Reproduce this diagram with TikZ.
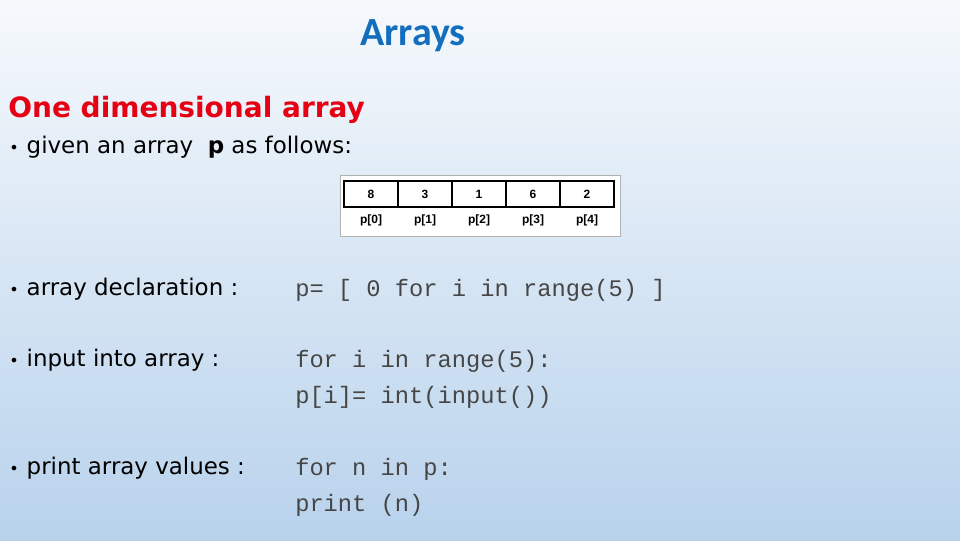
\documentclass[tikz,border=0pt]{standalone}
\usepackage{fontspec}
\setmainfont{DejaVu Sans}
\newfontfamily\titlefont{Carlito}
\newfontfamily\codefont{Liberation Mono}
\newfontfamily\cellfont{Liberation Sans}
\definecolor{titleblue}{RGB}{20,110,190}
\definecolor{headred}{RGB}{230,0,20}
\definecolor{codegray}{RGB}{70,70,70}
\definecolor{bgtop}{RGB}{246,249,252}
\definecolor{bgbot}{RGB}{184,210,236}
\newcommand{\itemdot}{{\fontsize{12}{12}\selectfont\textbullet}\hspace{0.35em}}
\tikzset{
  txt/.style={anchor=base west,inner sep=0pt,font=\fontsize{17.2}{20}\selectfont},
  code/.style={anchor=base west,inner sep=0pt,text=codegray,font=\codefont\fontsize{17.8}{20}\selectfont},
  cellbox/.style={draw,line width=1.2pt,minimum width=40.5pt,minimum height=19.5pt,inner sep=0pt,font=\cellfont\bfseries\fontsize{9}{10}\selectfont},
  idx/.style={inner sep=0pt,font=\cellfont\bfseries\fontsize{9}{10}\selectfont}
}
\begin{document}
\begin{tikzpicture}[x=0.75pt,y=-0.75pt]
  \shade[top color=bgtop,bottom color=bgbot] (0,0) rectangle (960,540);
  \useasboundingbox (0,0) rectangle (960,540);
  % title and heading
  \node[anchor=base,inner sep=0pt,text=titleblue,font=\titlefont\bfseries\fontsize{30}{34}\selectfont] (title) at (413,45) {Arrays};
  \node[txt,text=headred,font=\bfseries\fontsize{21}{24}\selectfont] (head) at (8,117) {One dimensional array};
  \node[txt] (given) at (9,153) {\itemdot given an array \ \textbf{p} as follows:};
  % array picture
  \fill[white] (340,175) rectangle (620,236);
  \draw[gray!60] (340,175) rectangle (620,236);
  \foreach \v [count=\i from 0] in {8,3,1,6,2} {
    \node[cellbox] (c\i) at (371+\i*54,194) {\v};
    \node[idx] (p\i) at (371+\i*54,220) {p[\i]};
  }
  % statements
  \node[txt] (decl) at (9,295) {\itemdot array declaration :};
  \node[code] (declc) at (295,296) {p= [ 0 for i in range(5) ]};
  \node[txt] (inp) at (9,366) {\itemdot input into array :};
  \node[code] (inpc1) at (295,367) {for i in range(5):};
  \node[code] (inpc2) at (295,403) {p[i]= int(input())};
  \node[txt] (prt) at (9,474) {\itemdot print array values :};
  \node[code] (prtc1) at (295,475) {for n in p:};
  \node[code] (prtc2) at (295,511) {print (n)};
\end{tikzpicture}
\end{document}
